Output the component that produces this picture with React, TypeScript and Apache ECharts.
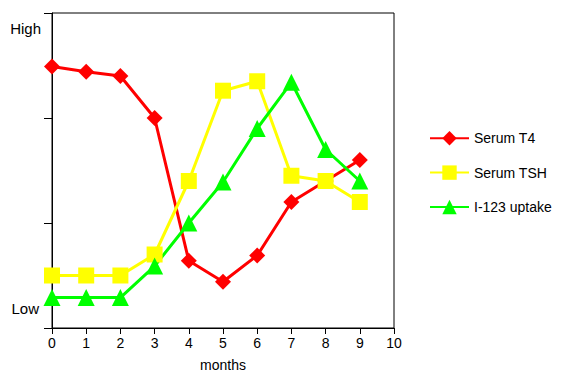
import React, { useEffect, useRef } from "react";
import * as echarts from "echarts";

const months = [0, 1, 2, 3, 4, 5, 6, 7, 8, 9];
const serumT4 = [2.49, 2.44, 2.4, 2.0, 0.64, 0.44, 0.69, 1.2, 1.4, 1.6];
const serumTSH = [0.5, 0.5, 0.5, 0.7, 1.4, 2.26, 2.35, 1.45, 1.4, 1.2];
const uptake = [0.29, 0.29, 0.29, 0.59, 1.0, 1.39, 1.9, 2.34, 1.7, 1.4];
const seriesNames = ["Serum T4", "Serum TSH", "I-123 uptake"];
const levelLabels = ["High", "Low"];

const FONT = "'Liberation Sans', Arial, sans-serif";

export default function App() {
  const ref = useRef<HTMLDivElement>(null);
  useEffect(() => {
    if (!ref.current) return;
    const chart = echarts.init(ref.current, undefined, { renderer: "svg" });
    const mk = (name: string, vals: number[], color: string, symbol: string, size: number) => ({
      name,
      type: "line",
      data: months.map((m, i) => [m, vals[i]]),
      symbol,
      symbolSize: size,
      lineStyle: { color, width: 3 },
      itemStyle: { color },
      z: 3,
    });
    chart.setOption({
      animation: false,
      backgroundColor: "#ffffff",
      textStyle: { fontFamily: FONT },
      grid: {
        left: 52,
        top: 13,
        right: 169,
        bottom: 59,
        show: true,
        borderColor: "#000",
        borderWidth: 1,
        backgroundColor: "transparent",
      },
      legend: {
        orient: "vertical",
        left: 429,
        top: 131,
        padding: 0,
        itemWidth: 39,
        itemHeight: 18,
        itemGap: 20,
        data: seriesNames,
        textStyle: { fontSize: 14, color: "#000", fontFamily: FONT },
      },
      xAxis: {
        type: "value",
        min: 0,
        max: 10,
        interval: 1,
        name: "months",
        nameLocation: "middle",
        nameGap: 30,
        nameTextStyle: { fontSize: 14, color: "#000", fontFamily: FONT },
        axisLine: { lineStyle: { color: "#000", width: 1 } },
        axisTick: { show: true, length: 6, lineStyle: { color: "#000" } },
        axisLabel: { fontSize: 14, color: "#000", margin: 8, fontFamily: FONT },
        splitLine: { show: false },
      },
      yAxis: {
        type: "value",
        min: 0,
        max: 3,
        interval: 1,
        axisLine: { show: true, lineStyle: { color: "#000", width: 1 } },
        axisTick: { show: true, length: 8, lineStyle: { color: "#000" } },
        axisLabel: { show: false },
        splitLine: { show: false },
      },
      graphic: [
        {
          type: "text",
          right: 563 - 41,
          top: 21,
          style: { text: levelLabels[0], font: `15px ${FONT}`, fill: "#000" },
        },
        {
          type: "text",
          right: 563 - 39,
          top: 301,
          style: { text: levelLabels[1], font: `15px ${FONT}`, fill: "#000" },
        },
      ],
      series: [
        mk(seriesNames[0], serumT4, "#ff0000", "diamond", 16),
        mk(seriesNames[1], serumTSH, "#ffff00", "rect", 16),
        mk(seriesNames[2], uptake, "#00ff00", "triangle", 17),
      ],
    });
    return () => chart.dispose();
  }, []);
  return (
    <div
      ref={ref}
      style={{ position: "fixed", left: 0, top: 0, width: 563, height: 387 }}
    />
  );
}
